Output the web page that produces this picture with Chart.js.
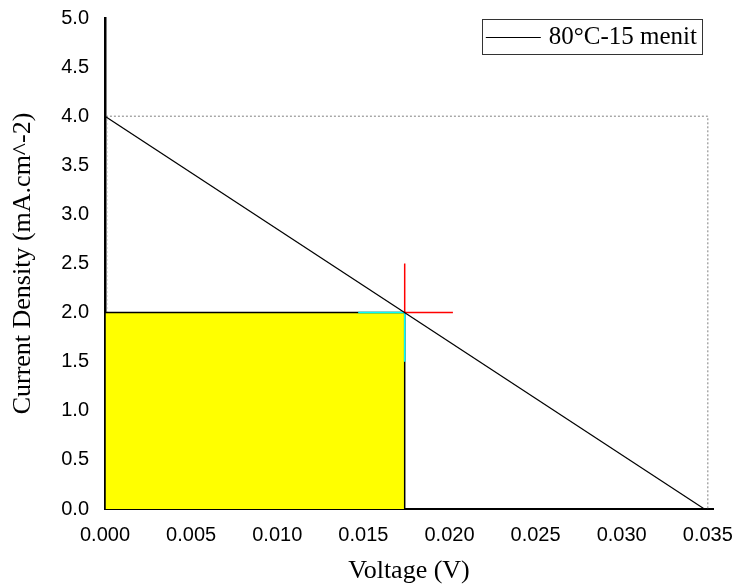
<!DOCTYPE html>
<html>
<head>
<meta charset="utf-8">
<script src="https://cdn.jsdelivr.net/npm/chart.js@4.4.1/dist/chart.umd.min.js"></script>
<style>
  html, body { margin: 0; padding: 0; background: #ffffff; }
  #wrap { width: 739px; height: 587px; }
</style>
</head>
<body>
<div id="wrap"><canvas id="c" width="739" height="587"></canvas></div>
<script>
// ---- data ----
const seriesLabel = '80°C-15 menit';
const ivVoltage = [0.0, 0.0348];          // V
const ivCurrent = [4.0, 0.0];             // mA.cm^-2
const mppPoint = [0.0174, 2.0];           // max power point (V, J)
const crossArmEnd = [0.0202, 2.5];        // red crosshair arm ends (V, J)
const cyanArmStart = [0.0147, 1.5];       // cyan corner arm starts (V, J)
const boundVoltage = [0.0001, 0.035];     // dotted bounding box (V)
const boundCurrent = [0.0, 4.0];          // dotted bounding box (J)
const xTickValues = [0.000, 0.005, 0.010, 0.015, 0.020, 0.025, 0.030, 0.035];
const yTickValues = [0.0, 0.5, 1.0, 1.5, 2.0, 2.5, 3.0, 3.5, 4.0, 4.5, 5.0];
const xTitle = 'Voltage (V)';
const yTitle = 'Current Density (mA.cm^-2)';

const serif = "'Liberation Serif', 'Times New Roman', Times, serif";
const sans = "'Liberation Sans', Arial, Helvetica, sans-serif";

const ivData = ivVoltage.map((v, i) => ({ x: v, y: ivCurrent[i] }));
const rectData = [
  { x: 0, y: 0 }, { x: 0, y: mppPoint[1] },
  { x: mppPoint[0], y: mppPoint[1] }, { x: mppPoint[0], y: 0 }
];
const crossData = [
  { x: mppPoint[0], y: crossArmEnd[1] }, { x: mppPoint[0], y: mppPoint[1] },
  { x: crossArmEnd[0], y: mppPoint[1] }
];
const cyanData = [
  { x: cyanArmStart[0], y: mppPoint[1] }, { x: mppPoint[0], y: mppPoint[1] },
  { x: mppPoint[0], y: cyanArmStart[1] }
];
const boxData = [
  { x: boundVoltage[0], y: boundCurrent[0] }, { x: boundVoltage[0], y: boundCurrent[1] },
  { x: boundVoltage[1], y: boundCurrent[1] }, { x: boundVoltage[1], y: boundCurrent[0] }
];

const legendBox = {
  id: 'legendBox',
  afterDraw(chart) {
    const ctx = chart.ctx;
    const area = chart.chartArea;
    const ds = chart.data.datasets[0];
    ctx.save();
    ctx.font = '25px ' + serif;
    const tw = ctx.measureText(ds.label).width;
    const right = area.right - 11;
    const top = area.top + 1;
    const h = 35;
    const lineLen = 55, padL = 4, gap = 8, padR = 5;
    const w = padL + lineLen + gap + tw + padR;
    const left = right - w;
    ctx.strokeStyle = '#333333';
    ctx.lineWidth = 1;
    ctx.strokeRect(Math.round(left) + 0.5, top + 0.5, Math.round(w), h);
    const cy = top + h / 2;
    ctx.strokeStyle = ds.borderColor;
    ctx.lineWidth = 1;
    ctx.beginPath();
    ctx.moveTo(left + padL, Math.round(cy) + 0.5);
    ctx.lineTo(left + padL + lineLen, Math.round(cy) + 0.5);
    ctx.stroke();
    ctx.fillStyle = '#000000';
    ctx.textBaseline = 'middle';
    ctx.textAlign = 'left';
    ctx.fillText(ds.label, left + padL + lineLen + gap, cy + 1);
    ctx.restore();
  }
};

new Chart(document.getElementById('c'), {
  type: 'scatter',
  data: {
    datasets: [
      { label: seriesLabel, data: ivData, showLine: true, borderColor: '#000000',
        borderWidth: 1.2, pointRadius: 0, fill: false },
      { label: 'cross', data: crossData, showLine: true, borderColor: '#ff0000',
        borderWidth: 1.5, pointRadius: 0, fill: false },
      { label: 'corner', data: cyanData, showLine: true, borderColor: '#00ffff',
        borderWidth: 1.5, pointRadius: 0, fill: false },
      { label: 'power', data: rectData, showLine: true, borderColor: '#000000',
        borderWidth: 1.5, backgroundColor: '#ffff00', pointRadius: 0, fill: 'origin' },
      { label: 'bounds', data: boxData, showLine: true, borderColor: '#808080',
        borderWidth: 1, borderDash: [2, 2], pointRadius: 0, fill: false }
    ]
  },
  options: {
    responsive: false,
    animation: false,
    layout: { padding: { top: 18, right: 26, bottom: 0, left: 0 } },
    plugins: {
      legend: { display: false },
      tooltip: { enabled: false }
    },
    scales: {
      x: {
        type: 'linear',
        min: 0,
        max: 0.0353,
        grid: { display: false, drawTicks: false },
        border: { display: true, color: '#000000', width: 2 },
        afterBuildTicks: (s) => { s.ticks = xTickValues.map(v => ({ value: v })); },
        afterFit: (s) => { s.height = 78; s.paddingLeft = 0; s.paddingRight = 0; },
        ticks: {
          color: '#000000',
          padding: 14,
          maxRotation: 0,
          autoSkip: false,
          font: { family: sans, size: 20 },
          callback: (v) => Number(v).toFixed(3)
        },
        title: {
          display: true, text: xTitle, color: '#000000',
          font: { family: serif, size: 26 },
          padding: { top: 0, bottom: 0 }
        }
      },
      y: {
        type: 'linear',
        min: 0,
        max: 5,
        grid: { display: false, drawTicks: false },
        border: { display: true, color: '#000000', width: 2.5 },
        afterBuildTicks: (s) => { s.ticks = yTickValues.map(v => ({ value: v })); },
        afterFit: (s) => { s.width = 105; s.paddingTop = 0; s.paddingBottom = 0; },
        ticks: {
          color: '#000000',
          padding: 16,
          autoSkip: false,
          font: { family: sans, size: 20 },
          callback: (v) => Number(v).toFixed(1)
        },
        title: {
          display: true, text: yTitle, color: '#000000',
          font: { family: serif, size: 26 },
          padding: { top: 8, bottom: 0 }
        }
      }
    }
  },
  plugins: [legendBox]
});
</script>
</body>
</html>
